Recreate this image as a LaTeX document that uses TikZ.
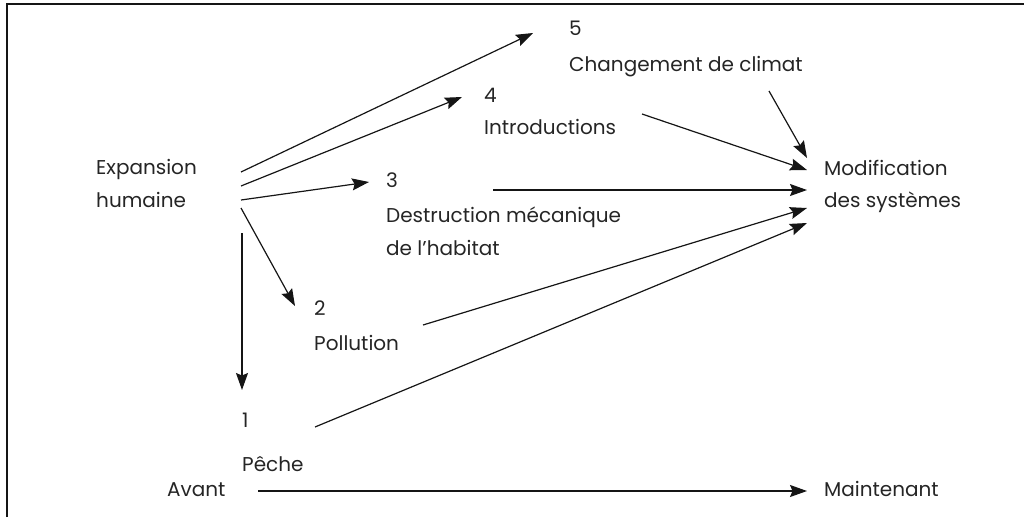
\documentclass[tikz,border=0pt]{standalone}
\usepackage{fontspec}
\setmainfont{Poppins}
\usetikzlibrary{arrows.meta}
\definecolor{txt}{HTML}{252525}
\definecolor{ln}{HTML}{151515}
\begin{document}
\begin{tikzpicture}[x=1pt,y=-1pt,
  lab/.style={anchor=base west,inner sep=0pt,text=txt,font=\fontsize{20}{24}\selectfont},
  conn/.style={draw=ln,line width=1.2pt,-{Stealth[length=17pt,width=12pt,inset=2.5pt]}}]
\useasboundingbox (0,0) rectangle (1024,517);
\draw[line width=2pt,ln] (7,517) -- (7,3.5) -- (1024,3.5);
% labels
\node[lab] (n5) at (569,35) {5};
\node[lab] (t5) at (569,71) {Changement de climat};
\node[lab] (n4) at (484,102) {4};
\node[lab] (t4) at (484,134) {Introductions};
\node[lab] (exp1) at (96,174) {Expansion};
\node[lab] (exp2) at (96,207) {humaine};
\node[lab] (n3) at (386,187) {3};
\node[lab] (t3a) at (386,222) {Destruction mécanique};
\node[lab] (t3b) at (386,255) {de l’habitat};
\node[lab] (n2) at (314,315) {2};
\node[lab] (t2) at (314,350) {Pollution};
\node[lab] (n1) at (242,427) {1};
\node[lab] (t1) at (242,471) {Pêche};
\node[lab] (avant) at (167,496) {Avant};
\node[lab] (maint) at (824,496) {Maintenant};
\node[lab] (mod1) at (824,175) {Modification};
\node[lab] (mod2) at (824,207) {des systèmes};
% connector ends
\coordinate (e5s) at (241,172); \coordinate (e5e) at (533,33);
\coordinate (e4s) at (241,186); \coordinate (e4e) at (462,97);
\coordinate (e3s) at (241,200); \coordinate (e3e) at (369,182);
\coordinate (e2s) at (241,208); \coordinate (e2e) at (295,306);
\coordinate (e1s) at (242,233); \coordinate (e1e) at (242,390);
\coordinate (b5s) at (769,91);  \coordinate (b5e) at (807,158);
\coordinate (b4s) at (642,114); \coordinate (b4e) at (807,170);
\coordinate (b3s) at (493,190); \coordinate (b3e) at (807,190);
\coordinate (b2s) at (423,325); \coordinate (b2e) at (807,208);
\coordinate (b1s) at (315,427); \coordinate (b1e) at (807,223);
\coordinate (avs) at (258,491); \coordinate (ave) at (807,491);
\draw[conn] (e5s) -- (e5e);
\draw[conn] (e4s) -- (e4e);
\draw[conn] (e3s) -- (e3e);
\draw[conn] (e2s) -- (e2e);
\draw[conn] (e1s) -- (e1e);
\draw[conn] (b5s) -- (b5e);
\draw[conn] (b4s) -- (b4e);
\draw[conn] (b3s) -- (b3e);
\draw[conn] (b2s) -- (b2e);
\draw[conn] (b1s) -- (b1e);
\draw[conn] (avs) -- (ave);
\end{tikzpicture}
\end{document}
